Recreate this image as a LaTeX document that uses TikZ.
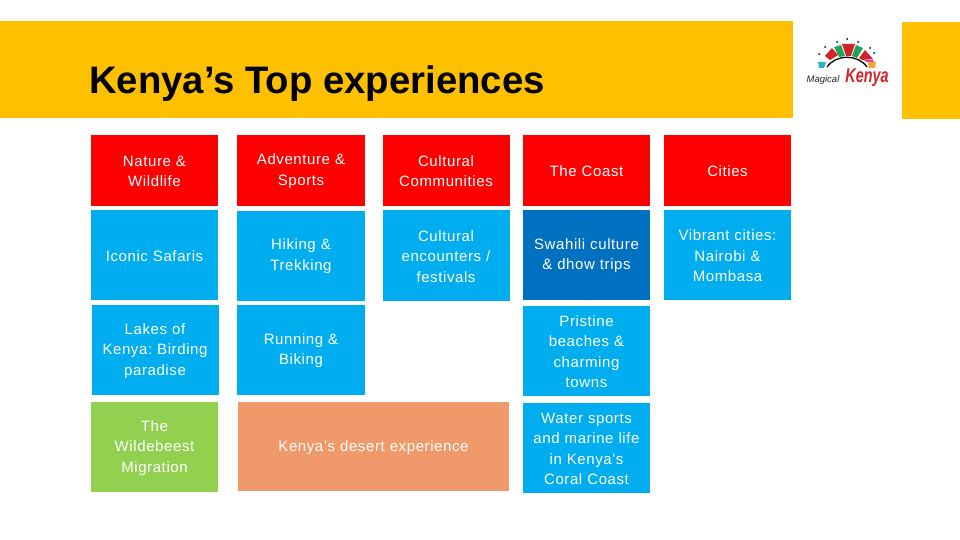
\documentclass[tikz,border=0pt]{standalone}
\usepackage{fontspec}
\setmainfont{Liberation Sans}
\newfontfamily\boxfont[LetterSpace=4]{Liberation Sans}
\definecolor{hdr}{HTML}{FFC000}
\definecolor{cred}{HTML}{FF0000}
\definecolor{cblue}{HTML}{00ADEF}
\definecolor{cdark}{HTML}{0070C0}
\definecolor{cgreen}{HTML}{92D050}
\definecolor{corange}{HTML}{F09A6B}
\definecolor{lgred}{HTML}{D2232A}
\definecolor{lggreen}{HTML}{1FA35B}
\definecolor{lgteal}{HTML}{29B5C8}
\definecolor{lgorange}{HTML}{F0A63C}
\definecolor{lgpink}{HTML}{E8388F}
\frenchspacing
\tikzset{
  x=1pt,y=-1pt,
  lbl/.style={inner sep=0pt,align=center,text=white,text width=125pt,yshift=-0.8pt,
    font=\fontsize{15}{20.4}\selectfont\boxfont},
  tile/.style={draw=none,inner sep=0pt,minimum height=#1},
  tile/.default=90pt,
  w127/.style={minimum width=127pt},
  redtile/.style={tile=71pt,w127,fill=cred},
  bluetile/.style={tile=90pt,w127,fill=cblue},
  band/.style={fill=hdr,draw=none},
}
\begin{document}
\begin{tikzpicture}
\useasboundingbox (0,0) rectangle (960,540);
\fill[white] (0,0) rectangle (960,540);
\fill[band] (0,21) rectangle (793,118);
\fill[band] (902,22) rectangle (960,119);
\node[anchor=base west,inner sep=0pt,font=\fontsize{38.3}{42}\selectfont\bfseries,text=black] (title) at (89,94) {Kenya’s Top experiences};
% column 1
\node[redtile,label={[lbl]center:{Nature \&\\Wildlife}}] (a1) at (154.5,170.5) {};
\node[bluetile,label={[lbl]center:{Iconic Safaris}}] (a2) at (154.5,255) {};
\node[bluetile,label={[lbl]center:{Lakes of\\Kenya: Birding\\paradise}}] (a3) at (155,350) {};
\node[tile=90pt,w127,fill=cgreen,label={[lbl]center:{The\\Wildebeest\\Migration}}] (a4) at (154.5,447) {};
% column 2
\node[redtile,minimum width=128pt,label={[lbl]center:{Adventure \&\\Sports}}] (b1) at (301,170.5) {};
\node[bluetile,minimum width=128pt,label={[lbl]center:{Hiking \&\\Trekking}}] (b2) at (301,255.5) {};
\node[bluetile,minimum width=128pt,label={[lbl]center:{Running \&\\Biking}}] (b3) at (301,350) {};
\node[tile=89pt,minimum width=271pt,fill=corange,label={[lbl,text width=266pt,yshift=-0.6pt]center:{Kenya’s desert experience}}] (b4) at (373.5,446.5) {};
% column 3
\node[redtile,label={[lbl]center:{Cultural\\Communities}}] (c1) at (446,170.5) {};
\node[tile=91pt,w127,fill=cblue,label={[lbl]center:{Cultural\\encounters /\\festivals}}] (c2) at (446,255.5) {};
% column 4
\node[redtile,label={[lbl]center:{The Coast}}] (d1) at (586.5,170.5) {};
\node[tile=90pt,w127,fill=cdark,label={[lbl]center:{Swahili culture\\\& dhow trips}}] (d2) at (586.5,255) {};
\node[bluetile,label={[lbl]center:{Pristine\\beaches \&\\charming\\towns}}] (d3) at (586.5,351) {};
\node[bluetile,label={[lbl]center:{Water sports\\and marine life\\in Kenya's\\Coral Coast}}] (d4) at (586.5,448) {};
% column 5
\node[redtile,label={[lbl]center:{Cities}}] (e1) at (727.5,170.5) {};
\node[bluetile,label={[lbl]center:{Vibrant cities:\\Nairobi \&\\Mombasa}}] (e2) at (727.5,255) {};
% logo
\fill[lgteal] (818,62) -- (826,62) -- (824,68) -- (819,68) -- cycle;
\fill[lgred] (825,56) -- (832,48) -- (838,55) -- (830,60) -- cycle;
\fill[lggreen] (834,47) -- (841,45) -- (845,56) -- (839,57) -- cycle;
\fill[lgred] (842,44) -- (855,44) -- (851,56) -- (846,56) -- cycle;
\fill[lggreen] (856,45) -- (863,48) -- (857,58) -- (852,56) -- cycle;
\fill[lgred] (865,50) -- (873,59) -- (862,60) -- (859,58) -- cycle;
\fill[lgpink] (864,60) -- (873,60) -- (874,62) -- (866,62) -- cycle;
\fill[lgorange] (868,62) -- (876,62) -- (875,68) -- (869,68) -- cycle;
\draw[black,line width=1.3pt] (827,67) .. controls (836,54) and (858,54) .. (867,67);
\foreach \px/\py in {819/54,825/47,837/42,847/39,858/42,870/48,874/53}
  \fill[black] (\px,\py) circle (1.0);
\node[inner sep=0pt,font=\fontsize{9.5}{10}\selectfont\itshape,text=black!85] (lg1) at (823,80) {Magical};
\node[inner sep=0pt,font=\fontsize{20}{20}\selectfont\itshape\bfseries,text=lgred,xscale=0.72] (lg2) at (867,78) {Kenya};
\end{tikzpicture}
\end{document}
